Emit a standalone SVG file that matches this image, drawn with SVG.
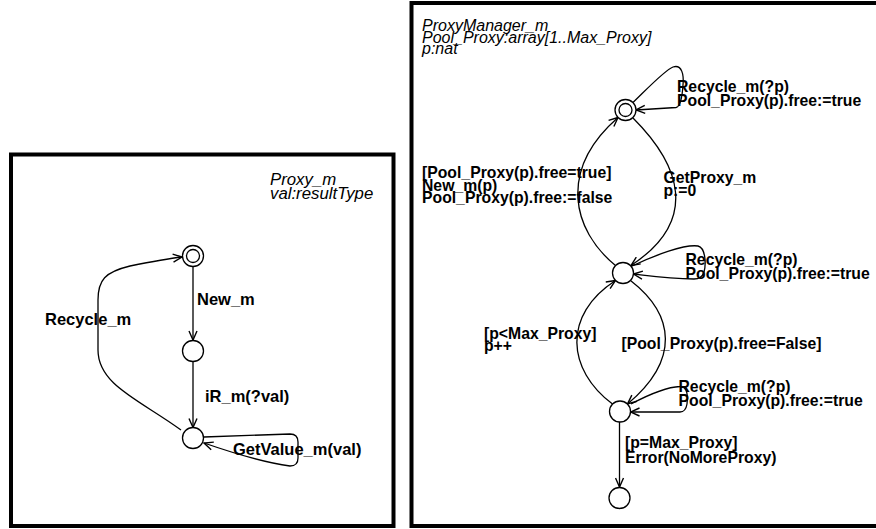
<svg xmlns="http://www.w3.org/2000/svg" width="876" height="529" viewBox="0 0 876 529">
<style>
  .frame{fill:none;stroke:#000;stroke-width:4}
  .st{fill:#fff;stroke:#000;stroke-width:1.3}
  .e{fill:none;stroke:#000;stroke-width:1.3;marker-end:url(#arr)}
  .lb{font-family:"Liberation Sans",Arial,Helvetica,sans-serif;font-weight:bold;font-size:15.75px;fill:#000}
  .lbl{font-size:16.5px}
  .dc{font-family:"Liberation Sans",Arial,Helvetica,sans-serif;font-style:italic;font-size:16px;fill:#000}
  .dcl{font-size:16.8px}
</style>
<defs>
  <marker id="arr" markerWidth="12" markerHeight="10" refX="10" refY="5" orient="auto" markerUnits="userSpaceOnUse">
    <path d="M1,1 L10,5 L1,9" fill="none" stroke="#000" stroke-width="1.4"/>
  </marker>
</defs>
<rect width="876" height="529" fill="#fff"/>

<g id="proxy_m">
  <rect class="frame" x="11" y="154.5" width="382.5" height="371.5"/>
  <text class="dc dcl" x="270" y="185">Proxy_m</text>
  <text class="dc dcl" x="270" y="198.5">val:resultType</text>
</g>
<g id="proxymanager_m">
  <rect class="frame" x="411.5" y="3" width="470" height="523"/>
  <text class="dc" x="422" y="31">ProxyManager_m</text>
  <text class="dc" x="422" y="42.5">Pool_Proxy:array[1..Max_Proxy]</text>
  <text class="dc" x="422" y="54">p:nat</text>
</g>

<g id="connectors">
  <!-- left machine -->
  <path class="e" d="M193,266.5 L193,340"/>
  <path class="e" d="M193,361.5 L193,427.5"/>
  <path class="e" d="M181,430 C140,400 98,385 98,350 L98,300 C98,280 105,272 130,266 C150,262 165,259 182,257"/>
  <path class="e" d="M204,437 L290,434 Q298,434 298,442 L298,458 Q298,466 290,466 C260,462 230,452 204,443"/>
  <!-- right machine -->
  <path class="e" d="M633,118 C680,165 700,220 631,265.5"/>
  <path class="e" d="M615.5,265.5 C572,230 558,170 618,117.5"/>
  <path class="e" d="M630.5,280.5 C675,315 680,360 627.5,404"/>
  <path class="e" d="M612.5,404 C567,370 562,315 615.5,280.5"/>
  <path class="e" d="M633,102.5 C648,88 665,70 673,67 C682,64 684,75 683,85 C682,100 680,107 676,107.5 L636,110"/>
  <path class="e" d="M631,266.5 C655,255 685,244 698,246 C706,248 706,265 704,272 C702,278 698,279 694,279 C670,279 650,276 633.5,274"/>
  <path class="e" d="M631,404 C648,395 665,387 680,386.5 C688,386 688,398 687,404 C686,410 684,412 680,412 L630.5,412"/>
  <path class="e" d="M619.5,422 L619.5,487"/>
</g>

<g id="l_init"><circle class="st" cx="193" cy="256" r="10.5"/><circle class="st" cx="193" cy="256" r="6.5"/></g>
<g id="l_s1"><circle class="st" cx="193" cy="351" r="10.5"/></g>
<g id="l_s2"><circle class="st" cx="193" cy="438" r="10.5"/></g>

<g id="r_init"><circle class="st" cx="625.5" cy="110" r="10.5"/><circle class="st" cx="625.5" cy="110" r="6.5"/></g>
<g id="r_s1"><circle class="st" cx="623" cy="273" r="10.5"/></g>
<g id="r_s2"><circle class="st" cx="620" cy="411.5" r="10.5"/></g>
<g id="r_s3"><circle class="st" cx="619.5" cy="498" r="10.5"/></g>

<g id="labels">
  <text class="lb lbl" x="197" y="305">New_m</text>
  <text class="lb lbl" x="205" y="401.5">iR_m(?val)</text>
  <text class="lb lbl" x="45" y="325">Recycle_m</text>
  <text class="lb lbl" x="233" y="455">GetValue_m(val)</text>

  <text class="lb" x="677" y="92">Recycle_m(?p)</text>
  <text class="lb" x="677" y="105.5">Pool_Proxy(p).free:=true</text>
  <text class="lb" x="663.5" y="183">GetProxy_m</text>
  <text class="lb" x="663.5" y="196">p:=0</text>
  <text class="lb" x="422" y="178">[Pool_Proxy(p).free=true]</text>
  <text class="lb" x="422" y="190.5">New_m(p)</text>
  <text class="lb" x="422" y="203">Pool_Proxy(p).free:=false</text>
  <text class="lb" x="685.5" y="265">Recycle_m(?p)</text>
  <text class="lb" x="685.5" y="278.5">Pool_Proxy(p).free:=true</text>
  <text class="lb" x="484" y="339">[p&lt;Max_Proxy]</text>
  <text class="lb" x="484" y="351">p++</text>
  <text class="lb" x="621.5" y="349">[Pool_Proxy(p).free=False]</text>
  <text class="lb" x="678.5" y="392">Recycle_m(?p)</text>
  <text class="lb" x="678.5" y="406">Pool_Proxy(p).free:=true</text>
  <text class="lb" x="625" y="448">[p=Max_Proxy]</text>
  <text class="lb" x="625" y="462.5">Error(NoMoreProxy)</text>
</g>
</svg>
